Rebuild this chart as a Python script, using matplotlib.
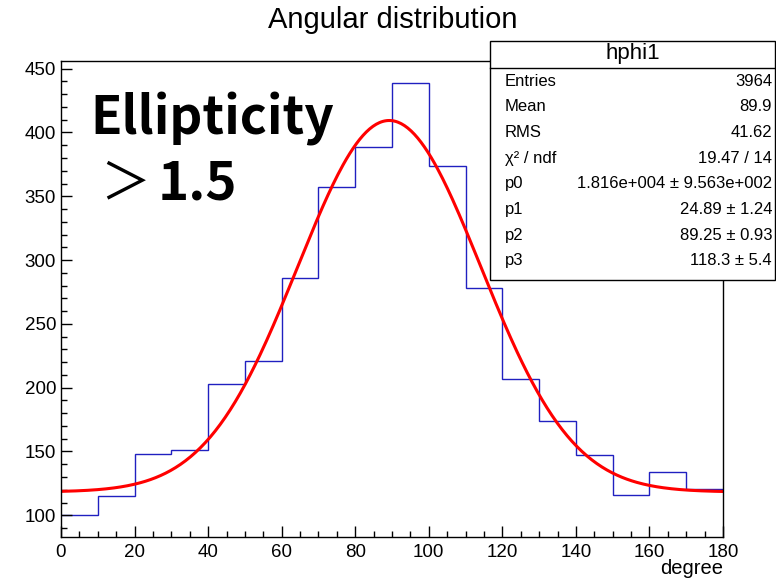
import numpy as np
import matplotlib
matplotlib.use("Agg")
import matplotlib.pyplot as plt
from matplotlib.ticker import MultipleLocator

# histogram contents (bin width 10 degree)
bin_edges = np.arange(0, 181, 10)
counts = [100, 115, 148, 151, 203, 221, 286, 357, 389, 439,
          374, 278, 207, 174, 147, 116, 134, 121]

# fit parameters from the stats box (gaus + constant)
p0, p1, p2, p3 = 1.816e4, 24.89, 89.25, 118.3

stats_labels = ["Entries", "Mean", "RMS", "χ² / ndf", "p0", "p1", "p2", "p3"]
stats_values = ["3964", "89.9", "41.62", "19.47 / 14",
                "1.816e+004 ± 9.563e+002", "24.89 ± 1.24", "89.25 ± 0.93", "118.3 ± 5.4"]

plt.rcParams['font.family'] = ['Liberation Sans', 'DejaVu Sans']

W, H = 776, 579
fig = plt.figure(figsize=(W / 100, H / 100), dpi=100)
ax = fig.add_axes([61 / W, 1 - 537 / H, (723 - 61) / W, (537 - 61) / H])

ax.stairs(counts, bin_edges, baseline=None, color='#2020c0', lw=1.0)

x = np.linspace(0, 180, 400)
fit = p3 + p0 / (np.sqrt(2 * np.pi) * p1) * np.exp(-0.5 * ((x - p2) / p1) ** 2)
ax.plot(x, fit, color='red', lw=2.2)

ax.set_xlim(0, 180)
ax.set_ylim(83, 456)
ax.xaxis.set_major_locator(MultipleLocator(20))
ax.xaxis.set_minor_locator(MultipleLocator(5))
ax.yaxis.set_major_locator(MultipleLocator(50))
ax.yaxis.set_minor_locator(MultipleLocator(10))
ax.tick_params(which='both', direction='in', top=False, right=False, labelsize=13.5, width=1)
ax.tick_params(which='major', length=8)
ax.tick_params(which='minor', length=4)
ax.tick_params(axis='x', pad=5)
for s in ax.spines.values():
    s.set_linewidth(1.0)

fig.text(393 / W, 1 - 20 / H, "Angular distribution", ha='center', va='center', fontsize=21)
fig.text(723 / W, 1 - 568 / H, "degree", ha='right', va='center', fontsize=14.5)

# big label
big = ['Noto Sans CJK JP', 'DejaVu Sans']
ax.text(90 / W, 1 - 135 / H, "Ellipticity", transform=fig.transFigure,
        fontsize=37, fontweight='bold', family=big, ha='left', va='baseline')
ax.text(100 / W, 1 - 198 / H, "＞", transform=fig.transFigure,
        fontsize=36, family=big, ha='left', va='baseline')
ax.text(158 / W, 1 - 200 / H, "1.5", transform=fig.transFigure,
        fontsize=38, fontweight='bold', family=big, ha='left', va='baseline')

# stats box
bx0, by0, bx1, by1 = 490 / W, 1 - 280 / H, 775 / W, 1 - 41 / H
box = plt.Rectangle((bx0, by0), bx1 - bx0, by1 - by0, transform=fig.transFigure,
                    facecolor='white', edgecolor='black', lw=1.0, zorder=5)
fig.add_artist(box)
fig.add_artist(plt.Line2D([bx0, bx1], [1 - 68 / H, 1 - 68 / H], transform=fig.transFigure,
                          color='black', lw=1.0, zorder=6))
fig.text((bx0 + bx1) / 2, 1 - 54 / H, "hphi1", ha='center', va='center', fontsize=16, zorder=7)
for i, (lab, val) in enumerate(zip(stats_labels, stats_values)):
    yy = 1 - (81 + i * 25.7) / H
    fig.text(505 / W, yy, lab, ha='left', va='center', fontsize=12, zorder=7)
    fig.text(772 / W, yy, val, ha='right', va='center', fontsize=12, zorder=7)

fig.savefig("out.png", dpi=100)
